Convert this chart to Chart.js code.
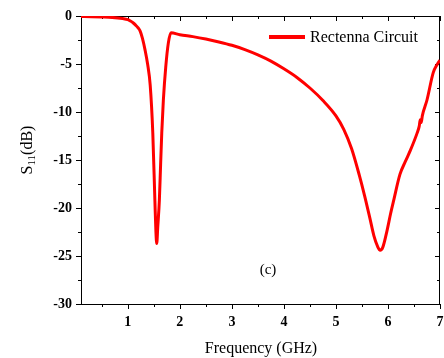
<!DOCTYPE html>
<html>
<head>
<meta charset="utf-8">
<script src="https://cdn.jsdelivr.net/npm/chart.js@4"></script>
<style>
  html, body { margin: 0; padding: 0; background: #fff; }
  #wrap { width: 444px; height: 358px; }
</style>
</head>
<body>
<div id="wrap"><canvas id="s11-chart" width="444" height="358"></canvas></div>
<script>
/* ── DATA ──────────────────────────────────────────────── */
const freqGHz = [0.1, 0.3, 0.5, 0.7, 0.9, 1.0, 1.05, 1.1, 1.15, 1.2, 1.235, 1.28, 1.33, 1.38, 1.43, 1.48, 1.52, 1.54, 1.556, 1.575, 1.606, 1.63, 1.652, 1.683, 1.729, 1.779, 1.83,
  2.0, 2.25, 2.5, 2.75, 3.0, 3.25, 3.5, 3.75, 4.0, 4.25, 4.5, 4.75, 5.0, 5.15, 5.3, 5.45, 5.55, 5.65, 5.73, 5.8, 5.85, 5.9, 5.98, 6.05, 6.11,
  6.23, 6.33, 6.43, 6.56, 6.6, 6.62, 6.64, 6.66, 6.75, 6.87, 6.94, 7.0];
const s11dB = [-0.05, -0.07, -0.1, -0.15, -0.27, -0.38, -0.52, -0.7, -0.95, -1.25, -1.55, -2.3, -3.5, -5.0, -7.2, -12.2, -19.2, -22.5, -23.7, -22.0, -19.2, -15.5, -12.2, -8.75, -5.3, -2.8, -1.74,
  -1.95, -2.15, -2.4, -2.7, -3.05, -3.5, -4.05, -4.7, -5.5, -6.4, -7.5, -8.8, -10.4, -11.8, -13.8, -16.6, -18.7, -21.0, -22.9, -24.0, -24.4, -24.1, -22.4, -20.6, -19.2,
  -16.5, -15.2, -14.0, -12.2, -11.5, -10.8, -11.1, -10.4, -8.75, -5.9, -5.1, -4.6];
const seriesLabel = 'Rectenna Circuit';
const xTicks = [1, 2, 3, 4, 5, 6, 7];
const xMinor = [0.5, 1.5, 2.5, 3.5, 4.5, 5.5, 6.5];
const yTicks = [0, -5, -10, -15, -20, -25, -30];
const yMinor = [-2.5, -7.5, -12.5, -17.5, -22.5, -27.5];

const SERIF = "'Liberation Serif', 'Times New Roman', serif";

/* ── FRAME, TICKS, TITLES, LEGEND ───────────────────────── */
const framePlugin = {
    id: 'frame',
    beforeDatasetsDraw(chart) {
        const { ctx, chartArea: a, scales: { x, y } } = chart;
        ctx.save();
        ctx.strokeStyle = '#000';
        ctx.lineWidth = 1;
        ctx.strokeRect(a.left + 0.5, a.top + 0.5, a.right - a.left - 1, a.bottom - a.top);
        ctx.beginPath();
        const tickX = (vals, len) => {
            vals.forEach(v => {
                const px = Math.round(x.getPixelForValue(v)) + 0.5;
                ctx.moveTo(px, a.bottom); ctx.lineTo(px, a.bottom + len);   // bottom, outward
                ctx.moveTo(px, a.top); ctx.lineTo(px, a.top + len);         // top, inward
            });
        };
        const tickY = (vals, len) => {
            vals.forEach(v => {
                const py = Math.round(y.getPixelForValue(v)) + 0.5;
                ctx.moveTo(a.left, py); ctx.lineTo(a.left - len, py);       // left, outward
                ctx.moveTo(a.right, py); ctx.lineTo(a.right - len, py);     // right, inward
            });
        };
        tickX(xTicks, 5); tickX(xMinor, 3);
        tickY(yTicks, 5); tickY(yMinor, 3);
        ctx.stroke();
        ctx.restore();
    },
    afterDraw(chart) {
        const { ctx } = chart;
        ctx.save();
        ctx.fillStyle = '#000';

        // x title
        ctx.font = '16px ' + SERIF;
        ctx.textAlign = 'center';
        ctx.textBaseline = 'middle';
        ctx.fillText('Frequency (GHz)', 261, 349);

        // y title with subscript
        ctx.save();
        ctx.translate(26, 150);
        ctx.rotate(-Math.PI / 2);
        ctx.textAlign = 'left';
        ctx.textBaseline = 'alphabetic';
        ctx.font = '16px ' + SERIF; const wS = ctx.measureText('S').width;
        ctx.font = '11px ' + SERIF; const wSub = ctx.measureText('11').width;
        ctx.font = '16px ' + SERIF; const wRest = ctx.measureText('(dB)').width;
        let cx = -(wS + wSub + wRest) / 2;
        ctx.font = '16px ' + SERIF; ctx.fillText('S', cx, 6); cx += wS;
        ctx.font = '11px ' + SERIF; ctx.fillText('11', cx, 9); cx += wSub;
        ctx.font = '16px ' + SERIF; ctx.fillText('(dB)', cx, 6);
        ctx.restore();

        // panel tag
        ctx.font = '15px ' + SERIF;
        ctx.textAlign = 'center';
        ctx.textBaseline = 'middle';
        ctx.fillText('(c)', 268, 270);

        // legend
        const ds = chart.data.datasets[0];
        ctx.strokeStyle = ds.borderColor;
        ctx.lineWidth = 4;
        ctx.beginPath();
        ctx.moveTo(269, 37); ctx.lineTo(305, 37);
        ctx.stroke();
        ctx.font = '16px ' + SERIF;
        ctx.textAlign = 'left';
        ctx.fillText(ds.label, 310, 38);
        ctx.restore();
    }
};

/* ── CHART ─────────────────────────────────────────────── */
new Chart(document.getElementById('s11-chart'), {
    type: 'line',
    data: {
        datasets: [{
            label: seriesLabel,
            data: freqGHz.map((f, i) => ({ x: f, y: s11dB[i] })),
            borderColor: '#ff0000',
            borderWidth: 3,
            pointRadius: 0,
            cubicInterpolationMode: 'monotone',
            fill: false,
        }],
    },
    options: {
        responsive: false,
        animation: false,
        layout: { padding: { top: 16, right: 4, left: 0, bottom: 0 } },
        plugins: { legend: { display: false }, tooltip: { enabled: false } },
        scales: {
            x: {
                type: 'linear',
                min: 0.1,
                max: 7,
                afterBuildTicks: s => { s.ticks = xTicks.map(v => ({ value: v })); },
                afterFit: s => { s.height = 54; s.paddingLeft = 0; s.paddingRight = 0; },
                grid: { display: false, drawTicks: false },
                border: { display: false },
                ticks: {
                    padding: 10,
                    color: '#000',
                    font: { family: SERIF, size: 14, weight: 'bold' },
                },
            },
            y: {
                min: -30,
                max: 0,
                afterBuildTicks: s => { s.ticks = yTicks.map(v => ({ value: v })); },
                afterFit: s => { s.width = 81; s.paddingTop = 0; s.paddingBottom = 0; },
                grid: { display: false, drawTicks: false },
                border: { display: false },
                ticks: {
                    padding: 9,
                    color: '#000',
                    font: { family: SERIF, size: 14, weight: 'bold' },
                },
            },
        },
    },
    plugins: [framePlugin],
});
</script>
</body>
</html>
